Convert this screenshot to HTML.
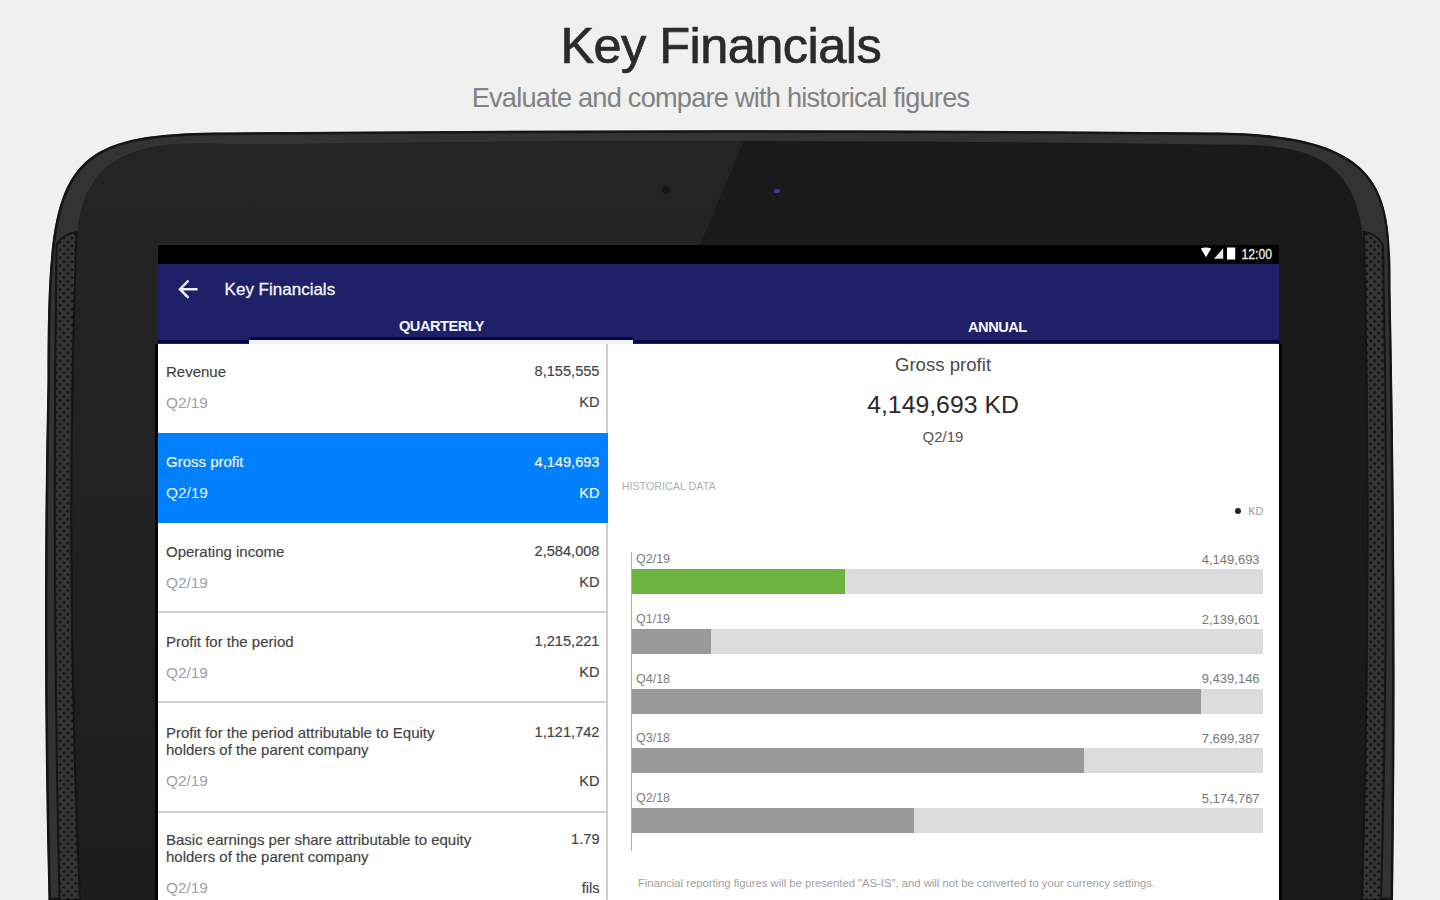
<!DOCTYPE html>
<html><head><meta charset="utf-8"><title>Key Financials</title>
<style>
html,body{margin:0;padding:0;}
body{width:1440px;height:900px;overflow:hidden;position:relative;background:#f0f0f0;font-family:"Liberation Sans", sans-serif;}
</style></head><body>
<div style="position:absolute;left:320.75px;width:800px;text-align:center;top:21.15px;font-size:50.5px;line-height:50.5px;color:#2b2b2b;font-weight:400;white-space:nowrap;-webkit-text-stroke:0.7px #2b2b2b;letter-spacing:-0.55px;">Key Financials</div>
<div style="position:absolute;left:320.5px;width:800px;text-align:center;top:84.18px;font-size:27.2px;line-height:27.2px;color:#828282;font-weight:400;white-space:nowrap;letter-spacing:-0.78px;">Evaluate and compare with historical figures</div>
<svg width="1440" height="900" style="position:absolute;left:0;top:0">
<defs>
<pattern id="mesh" width="5.6" height="5.6" patternUnits="userSpaceOnUse" patternTransform="translate(60,240) rotate(45)">
<rect width="5.6" height="5.6" fill="#363636"/><circle cx="1.4" cy="1.4" r="1.5" fill="#141414"/>
</pattern>
<linearGradient id="lface" gradientUnits="userSpaceOnUse" x1="0" y1="150" x2="0" y2="900"><stop offset="0" stop-color="#242424"/><stop offset="0.5" stop-color="#222222"/><stop offset="1" stop-color="#1d1d1d"/></linearGradient>
<clipPath id="faceclip"><path d="M80,900 Q64.5,566 77,250 C77,125 182,144.5 257,144.5 Q720,137.5 1214,144.5 C1294,144.5 1364,145 1364,260 Q1372,580 1362,900 Z"/></clipPath>
</defs>
<clipPath id="bodyclip"><path d="M48.5,900 Q42,640 47.5,380 C47.5,165 57.5,132.5 227.5,132.5 Q720,128 1210.5,132.5 C1390.5,132.5 1390.5,195 1390.5,290 Q1397,610 1393,900 Z"/></clipPath>
<path d="M48.5,900 Q42,640 47.5,380 C47.5,165 57.5,132.5 227.5,132.5 Q720,128 1210.5,132.5 C1390.5,132.5 1390.5,195 1390.5,290 Q1397,610 1393,900 Z" fill="#333333" stroke="#161616" stroke-width="5" clip-path="url(#bodyclip)"/>
<g clip-path="url(#faceclip)">
<rect x="0" y="0" width="1440" height="900" fill="#1a1a1a"/>
<path d="M0,0 L748,0 L748,131 L424,900 L0,900 Z" fill="url(#lface)"/>
</g>
<path d="M59.5,900 Q51.85,575 56.5,245 C60,238 68,233 76.5,232 Q64.5,566 80,900 Z" fill="url(#mesh)" stroke="#141414" stroke-width="2"/>
<path d="M1381,900 Q1390,572 1383,245 C1379,238 1372,233 1364,232 Q1372,566 1362,900 Z" fill="url(#mesh)" stroke="#141414" stroke-width="2"/>
<circle cx="666" cy="190" r="4" fill="#161616"/>
<ellipse cx="777" cy="191" rx="3" ry="2" fill="#3b3bb0"/>
</svg>
<div style="position:absolute;left:155px;top:344px;width:1127px;height:556px;background:#050505"></div>
<div style="position:absolute;left:158px;top:245px;width:1121px;height:655px;background:#fff;overflow:hidden">
<div style="position:absolute;left:-158px;top:-245px;width:1440px;height:900px">
<div style="position:absolute;left:158px;top:245px;width:1121px;height:19px;background:#000"></div>
<svg style="position:absolute;left:1200px;top:246px" width="40" height="16"><path d="M0.8,2.6 Q6,0.4 11.2,2.6 L6,11.2 Z" fill="#fff"/><path d="M13.8,12.8 L23.2,2.3 L23.2,12.8 Z" fill="#e6e6e6"/><rect x="27" y="1.5" width="8.2" height="12" fill="#fff"/></svg>
<div style="position:absolute;right:168px;top:246.95px;font-size:14px;line-height:14px;color:#e8e8e8;font-weight:400;white-space:nowrap;transform:scaleX(0.87);transform-origin:100% 50%;-webkit-text-stroke:0.3px #e8e8e8;">12:00</div>
<div style="position:absolute;left:158px;top:264px;width:1121px;height:80px;background:#1e2068"></div>
<div style="position:absolute;left:158px;top:340px;width:1121px;height:3px;background:#02024e"></div>
<div style="position:absolute;left:249px;top:337.3px;width:384px;height:3px;background:#02024e"></div>
<div style="position:absolute;left:249px;top:340px;width:384px;height:4px;background:#f4f4f6"></div>
<svg style="position:absolute;left:170px;top:275px" width="40" height="30" viewBox="170 275 40 30"><path d="M197.5,289.2 L180,289.2 M188.5,280.5 L180,289.2 L188.5,297.9" fill="none" stroke="#eef0fa" stroke-width="2.5" stroke-linejoin="miter"/></svg>
<div style="position:absolute;left:224.6px;top:280.61px;font-size:17px;line-height:17px;color:#f4f4f4;font-weight:400;white-space:nowrap;-webkit-text-stroke:0.3px #f4f4f4;">Key Financials</div>
<div style="position:absolute;left:41.5px;width:800px;text-align:center;top:319.04px;font-size:14.6px;line-height:14.6px;color:#f4f4f4;font-weight:700;white-space:nowrap;letter-spacing:-0.5px;">QUARTERLY</div>
<div style="position:absolute;left:597.4px;width:800px;text-align:center;top:319.94px;font-size:14.6px;line-height:14.6px;color:#f4f4f4;font-weight:700;white-space:nowrap;letter-spacing:-0.5px;">ANNUAL</div>
<div style="position:absolute;left:606px;top:344px;width:1.5px;height:556px;background:#cfcfcf"></div>
<div style="position:absolute;left:166px;top:364.00px;font-size:15px;line-height:15px;color:#424242;font-weight:400;white-space:nowrap;-webkit-text-stroke:0.15px #424242;">Revenue</div>
<div style="position:absolute;right:840.5px;top:364.34px;font-size:14.6px;line-height:14.6px;color:#424242;font-weight:400;white-space:nowrap;-webkit-text-stroke:0.15px #424242;">8,155,555</div>
<div style="position:absolute;left:166px;top:394.76px;font-size:15.4px;line-height:15.4px;color:#a0a0a0;font-weight:400;white-space:nowrap;">Q2/19</div>
<div style="position:absolute;right:840.5px;top:395.44px;font-size:14.6px;line-height:14.6px;color:#424242;font-weight:400;white-space:nowrap;-webkit-text-stroke:0.15px #424242;">KD</div>
<div style="position:absolute;left:158px;top:432.9px;width:449.5px;height:90.4px;background:#0080ff"></div>
<div style="position:absolute;left:166px;top:454.40px;font-size:15px;line-height:15px;color:#f4f8ff;font-weight:400;white-space:nowrap;-webkit-text-stroke:0.15px #f4f8ff;">Gross profit</div>
<div style="position:absolute;right:840.5px;top:454.74px;font-size:14.6px;line-height:14.6px;color:#f4f8ff;font-weight:400;white-space:nowrap;-webkit-text-stroke:0.15px #f4f8ff;">4,149,693</div>
<div style="position:absolute;left:166px;top:485.16px;font-size:15.4px;line-height:15.4px;color:#eaf3ff;font-weight:400;white-space:nowrap;">Q2/19</div>
<div style="position:absolute;right:840.5px;top:485.84px;font-size:14.6px;line-height:14.6px;color:#f4f8ff;font-weight:400;white-space:nowrap;-webkit-text-stroke:0.15px #f4f8ff;">KD</div>
<div style="position:absolute;left:166px;top:544.00px;font-size:15px;line-height:15px;color:#424242;font-weight:400;white-space:nowrap;-webkit-text-stroke:0.15px #424242;">Operating income</div>
<div style="position:absolute;right:840.5px;top:544.34px;font-size:14.6px;line-height:14.6px;color:#424242;font-weight:400;white-space:nowrap;-webkit-text-stroke:0.15px #424242;">2,584,008</div>
<div style="position:absolute;left:166px;top:574.76px;font-size:15.4px;line-height:15.4px;color:#a0a0a0;font-weight:400;white-space:nowrap;">Q2/19</div>
<div style="position:absolute;right:840.5px;top:575.44px;font-size:14.6px;line-height:14.6px;color:#424242;font-weight:400;white-space:nowrap;-webkit-text-stroke:0.15px #424242;">KD</div>
<div style="position:absolute;left:166px;top:634.00px;font-size:15px;line-height:15px;color:#424242;font-weight:400;white-space:nowrap;-webkit-text-stroke:0.15px #424242;">Profit for the period</div>
<div style="position:absolute;right:840.5px;top:634.34px;font-size:14.6px;line-height:14.6px;color:#424242;font-weight:400;white-space:nowrap;-webkit-text-stroke:0.15px #424242;">1,215,221</div>
<div style="position:absolute;left:166px;top:664.76px;font-size:15.4px;line-height:15.4px;color:#a0a0a0;font-weight:400;white-space:nowrap;">Q2/19</div>
<div style="position:absolute;right:840.5px;top:665.44px;font-size:14.6px;line-height:14.6px;color:#424242;font-weight:400;white-space:nowrap;-webkit-text-stroke:0.15px #424242;">KD</div>
<div style="position:absolute;left:158px;top:611px;width:449px;height:2.2px;background:#d2d2d2"></div>
<div style="position:absolute;left:166px;top:724.60px;font-size:15px;line-height:15px;color:#424242;font-weight:400;white-space:nowrap;-webkit-text-stroke:0.15px #424242;">Profit for the period attributable to Equity</div>
<div style="position:absolute;left:166px;top:741.75px;font-size:15px;line-height:15px;color:#424242;font-weight:400;white-space:nowrap;-webkit-text-stroke:0.15px #424242;">holders of the parent company</div>
<div style="position:absolute;right:840.5px;top:724.94px;font-size:14.6px;line-height:14.6px;color:#424242;font-weight:400;white-space:nowrap;-webkit-text-stroke:0.15px #424242;">1,121,742</div>
<div style="position:absolute;left:166px;top:773.16px;font-size:15.4px;line-height:15.4px;color:#a0a0a0;font-weight:400;white-space:nowrap;">Q2/19</div>
<div style="position:absolute;right:840.5px;top:773.84px;font-size:14.6px;line-height:14.6px;color:#424242;font-weight:400;white-space:nowrap;-webkit-text-stroke:0.15px #424242;">KD</div>
<div style="position:absolute;left:158px;top:701px;width:449px;height:2.2px;background:#d2d2d2"></div>
<div style="position:absolute;left:166px;top:831.70px;font-size:15px;line-height:15px;color:#424242;font-weight:400;white-space:nowrap;-webkit-text-stroke:0.15px #424242;">Basic earnings per share attributable to equity</div>
<div style="position:absolute;left:166px;top:848.85px;font-size:15px;line-height:15px;color:#424242;font-weight:400;white-space:nowrap;-webkit-text-stroke:0.15px #424242;">holders of the parent company</div>
<div style="position:absolute;right:840.5px;top:832.04px;font-size:14.6px;line-height:14.6px;color:#424242;font-weight:400;white-space:nowrap;-webkit-text-stroke:0.15px #424242;">1.79</div>
<div style="position:absolute;left:166px;top:880.26px;font-size:15.4px;line-height:15.4px;color:#a0a0a0;font-weight:400;white-space:nowrap;">Q2/19</div>
<div style="position:absolute;right:840.5px;top:880.94px;font-size:14.6px;line-height:14.6px;color:#424242;font-weight:400;white-space:nowrap;-webkit-text-stroke:0.15px #424242;">fils</div>
<div style="position:absolute;left:158px;top:811px;width:449px;height:2.2px;background:#d2d2d2"></div>
<div style="position:absolute;left:543px;width:800px;text-align:center;top:355.66px;font-size:18.6px;line-height:18.6px;color:#4a4a4a;font-weight:400;white-space:nowrap;">Gross profit</div>
<div style="position:absolute;left:543px;width:800px;text-align:center;top:392.61px;font-size:24.8px;line-height:24.8px;color:#2a2a2a;font-weight:400;white-space:nowrap;">4,149,693 KD</div>
<div style="position:absolute;left:543px;width:800px;text-align:center;top:428.60px;font-size:15px;line-height:15px;color:#555;font-weight:400;white-space:nowrap;">Q2/19</div>
<div style="position:absolute;left:621.7px;top:480.90px;font-size:10.75px;line-height:10.75px;color:#b0b0b0;font-weight:400;white-space:nowrap;">HISTORICAL DATA</div>
<div style="position:absolute;left:1235px;top:508px;width:6px;height:6px;border-radius:50%;background:#222"></div>
<div style="position:absolute;right:176.5px;top:505.69px;font-size:11px;line-height:11px;color:#999;font-weight:400;white-space:nowrap;">KD</div>
<div style="position:absolute;left:631px;top:552px;width:1.2px;height:299px;background:#b0b0b0"></div>
<div style="position:absolute;left:632px;top:569.0px;width:631px;height:25px;background:#dcdcdc"></div>
<div style="position:absolute;left:632px;top:569.0px;width:213px;height:25px;background:#6db33f"></div>
<div style="position:absolute;left:636px;top:552.92px;font-size:12.5px;line-height:12.5px;color:#7c7c7c;font-weight:400;white-space:nowrap;">Q2/19</div>
<div style="position:absolute;right:180.4000000000001px;top:552.80px;font-size:13px;line-height:13px;color:#777777;font-weight:400;white-space:nowrap;">4,149,693</div>
<div style="position:absolute;left:632px;top:628.8px;width:631px;height:25px;background:#dcdcdc"></div>
<div style="position:absolute;left:632px;top:628.8px;width:79px;height:25px;background:#9a9a9a"></div>
<div style="position:absolute;left:636px;top:612.72px;font-size:12.5px;line-height:12.5px;color:#7c7c7c;font-weight:400;white-space:nowrap;">Q1/19</div>
<div style="position:absolute;right:180.4000000000001px;top:612.60px;font-size:13px;line-height:13px;color:#777777;font-weight:400;white-space:nowrap;">2,139,601</div>
<div style="position:absolute;left:632px;top:688.6px;width:631px;height:25px;background:#dcdcdc"></div>
<div style="position:absolute;left:632px;top:688.6px;width:569px;height:25px;background:#9a9a9a"></div>
<div style="position:absolute;left:636px;top:672.52px;font-size:12.5px;line-height:12.5px;color:#7c7c7c;font-weight:400;white-space:nowrap;">Q4/18</div>
<div style="position:absolute;right:180.4000000000001px;top:672.40px;font-size:13px;line-height:13px;color:#777777;font-weight:400;white-space:nowrap;">9,439,146</div>
<div style="position:absolute;left:632px;top:748.4px;width:631px;height:25px;background:#dcdcdc"></div>
<div style="position:absolute;left:632px;top:748.4px;width:452px;height:25px;background:#9a9a9a"></div>
<div style="position:absolute;left:636px;top:732.32px;font-size:12.5px;line-height:12.5px;color:#7c7c7c;font-weight:400;white-space:nowrap;">Q3/18</div>
<div style="position:absolute;right:180.4000000000001px;top:732.20px;font-size:13px;line-height:13px;color:#777777;font-weight:400;white-space:nowrap;">7,699,387</div>
<div style="position:absolute;left:632px;top:808.2px;width:631px;height:25px;background:#dcdcdc"></div>
<div style="position:absolute;left:632px;top:808.2px;width:282px;height:25px;background:#9a9a9a"></div>
<div style="position:absolute;left:636px;top:792.12px;font-size:12.5px;line-height:12.5px;color:#7c7c7c;font-weight:400;white-space:nowrap;">Q2/18</div>
<div style="position:absolute;right:180.4000000000001px;top:792.00px;font-size:13px;line-height:13px;color:#777777;font-weight:400;white-space:nowrap;">5,174,767</div>
<div style="position:absolute;left:638px;top:878.48px;font-size:11.25px;line-height:11.25px;color:#a0a0a0;font-weight:400;white-space:nowrap;">Financial reporting figures will be presented "AS-IS", and will not be converted to your currency settings.</div>
</div></div>

</body></html>
